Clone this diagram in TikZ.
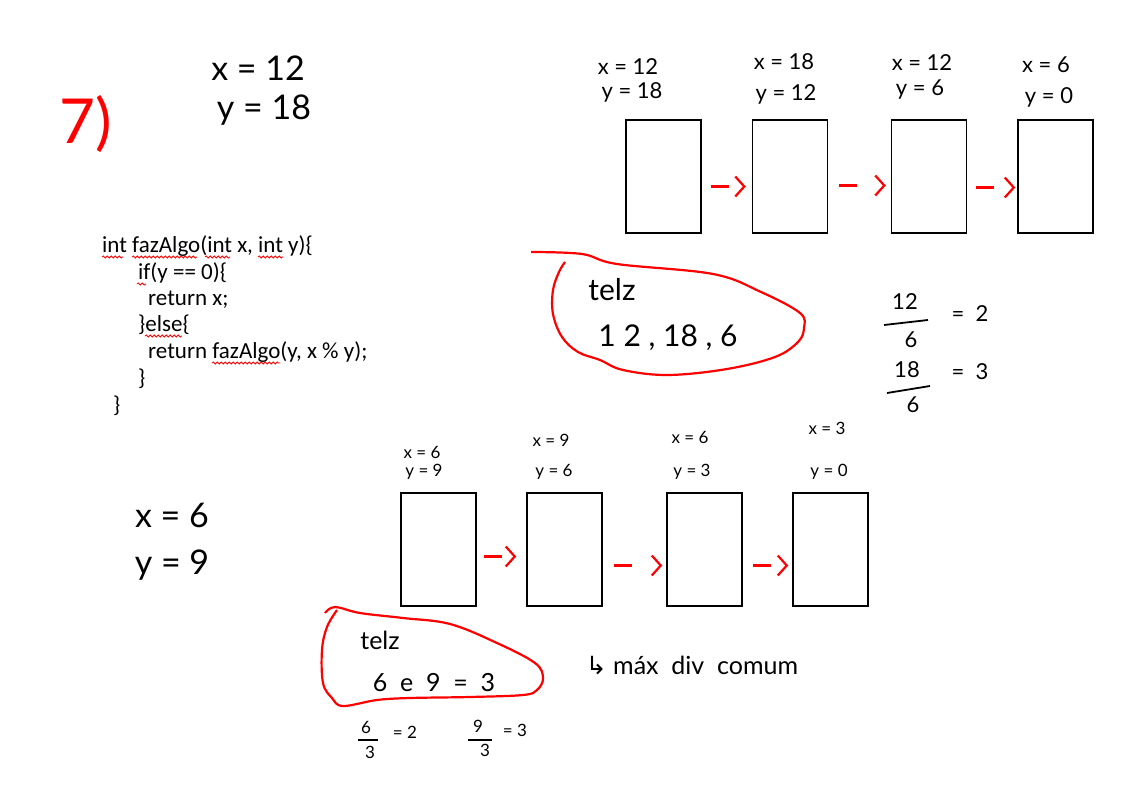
\documentclass[tikz,border=0pt]{standalone}
\usepackage{fontspec}
\setmainfont{Lato}
\newfontfamily\codefont{Carlito}
\newfontfamily\symfont{DejaVu Sans}
\usetikzlibrary{arrows.meta,decorations.pathmorphing}
\tikzset{
  box/.style={draw, line width=1.5pt, minimum width=75pt, minimum height=113pt, inner sep=0pt},
  redarr/.style={draw=red, line width=2.2pt, dash pattern={on 18pt off 40pt},
     -{Straight Barb[length=9pt, width=20pt, line width=2.2pt]}},
  blob/.style={draw=red, line width=2.2pt},
  hand/.style={font=\fontsize{22}{24}\selectfont, inner sep=0pt, anchor=center},
  bighand/.style={font=\fontsize{34}{36}\selectfont, inner sep=0pt, anchor=center},
  small/.style={font=\fontsize{17}{19}\selectfont, inner sep=0pt, anchor=center},
  code/.style={font=\codefont\fontsize{23}{25}\selectfont, inner sep=0pt, anchor=base west},
  squig/.style={draw=red, line width=0.8pt, decorate, decoration={snake, segment length=4pt, amplitude=1pt}},
  bar/.style={draw, line width=1.8pt},
}
\begin{document}
\begin{tikzpicture}[x=1pt, y=-1pt]
\useasboundingbox[fill=white] (0,0) rectangle (1141,797);

% heading
\node[font=\fontsize{62}{62}\selectfont, text=red, inner sep=0pt] (num) at (86,124) {7)};
\node[bighand] (tx) at (258,68) {x = 12};
\node[bighand] (ty) at (264,110) {y = 18};

% code
\node[code] (c1) at (102,252) {int fazAlgo(int x, int y)\{};
\node[code] (c2) at (138,279) {if(y == 0)\{};
\node[code] (c3) at (148,305) {return x;};
\node[code] (c4) at (138,331) {\}else\{};
\node[code] (c5) at (148,358) {return fazAlgo(y, x \% y);};
\node[code] (c6) at (138,385) {\}};
\node[code] (c7) at (113,412) {\}};
\draw[squig] (102,257) -- (123,257);
\draw[squig] (132,257) -- (197,257);
\draw[squig] (205,257) -- (230,257);
\draw[squig] (258,257) -- (283,257);
\draw[squig] (137,284) -- (146,284);
\draw[squig] (145,336) -- (182,336);
\draw[squig] (212,363) -- (280,363);

% top chain
\node[box] (a1) at (663.5,176.5) {};
\node[box] (a2) at (790,176.5) {};
\node[box] (a3) at (929,176.5) {};
\node[box] (a4) at (1055.5,176.5) {};
\node[hand] (a1x) at (628,67) {x = 12};
\node[hand] (a1y) at (632,92) {y = 18};
\node[hand] (a2x) at (784,62) {x = 18};
\node[hand] (a2y) at (786,94) {y = 12};
\node[hand] (a3x) at (922,63) {x = 12};
\node[hand] (a3y) at (920,90) {y = 6};
\node[hand] (a4x) at (1046,65) {x = 6};
\node[hand] (a4y) at (1049,97) {y = 0};
\draw[redarr] ([xshift=9pt,yshift=-10pt]a1.east) -- ([xshift=-6pt,yshift=-10pt]a2.west);
\draw[redarr] ([xshift=11pt,yshift=-9pt]a2.east) -- ([xshift=-5pt,yshift=-9pt]a3.west);
\draw[redarr] ([xshift=9pt,yshift=-11pt]a3.east) -- ([xshift=-2pt,yshift=-11pt]a4.west);

% blob 1
\draw[blob] plot[smooth, tension=0.6] coordinates {(531,252) (582,254) (617,264) (713,274) (761,292) (800,313) (804,328) (798,342) (775,357) (727,369) (668,375) (623,370) (600,360) (578,352) (562,337) (553,314) (553,290) (559,272) (565,262)};
\node[bighand, font=\fontsize{30}{32}\selectfont] (t1a) at (612,290) {telz};
\node[bighand, font=\fontsize{30}{32}\selectfont] (t1b) at (668,338) {1 2 , 18 , 6};

% fractions right
\node[hand] (f1n) at (905,302) {12};
\draw[bar] (884,325) -- (928,320);
\node[hand] (f1d) at (911,340) {6};
\node[hand] (f1e) at (970,314) {=\ \ 2};
\node[hand] (f2n) at (907,370) {18};
\draw[bar] (887,393) -- (930,386);
\node[hand] (f2d) at (913,405) {6};
\node[hand] (f2e) at (970,372) {=\ \ 3};

% left values
\node[bighand] (lx) at (172,515) {x = 6};
\node[bighand] (ly) at (172,565) {y = 9};

% bottom chain
\node[box] (b1) at (438.5,549.5) {};
\node[box] (b2) at (564.5,549.5) {};
\node[box] (b3) at (704.5,549.5) {};
\node[box] (b4) at (830.5,549.5) {};
\node[small] (b1x) at (422,452) {x = 6};
\node[small] (b1y) at (424,472) {y = 9};
\node[small] (b2x) at (551,440) {x = 9};
\node[small] (b2y) at (554,472) {y = 6};
\node[small] (b3x) at (690,437) {x = 6};
\node[small] (b3y) at (692,472) {y = 3};
\node[small] (b4x) at (827,428) {x = 3};
\node[small] (b4y) at (829,472) {y = 0};
\draw[redarr] ([xshift=7pt,yshift=-7pt]b1.east) -- ([xshift=-10pt,yshift=-7pt]b2.west);
\draw[redarr] ([xshift=11pt,yshift=-16pt]b2.east) -- ([xshift=-4pt,yshift=-16pt]b3.west);
\draw[redarr] ([xshift=10pt,yshift=-16pt]b3.east) -- ([xshift=-4pt,yshift=-16pt]b4.west);

% blob 2
\draw[blob] plot[smooth, tension=0.6] coordinates {(325,613) (335,607) (360,613) (403,618) (450,624) (497,643) (535,663) (543,678) (537,690) (523,695) (470,697) (410,698) (377,700) (343,706) (332,698) (323,683) (322,650) (327,627) (337,610)};
\node[hand, font=\fontsize{25}{27}\selectfont] (t2a) at (380,640) {telz};
\node[hand, font=\fontsize{25}{27}\selectfont] (t2b) at (434,683) {6 \ e \ 9 \ = \ 3};
\node[hand, font=\fontsize{25}{27}\selectfont] (note) at (692,665) {{\symfont ↳} máx \ div \ comum};

% bottom fractions
\node[small] (g1n) at (366,727) {6};
\draw[bar, line width=1.5pt] (358,740) -- (378,740);
\node[small] (g1d) at (370,752) {3};
\node[small] (g1e) at (405,732) {= 2};
\node[small] (g2n) at (478,726) {9};
\draw[bar, line width=1.5pt] (468,740) -- (492,740);
\node[small] (g2d) at (485,750) {3};
\node[small] (g2e) at (515,730) {= 3};
\end{tikzpicture}
\end{document}
